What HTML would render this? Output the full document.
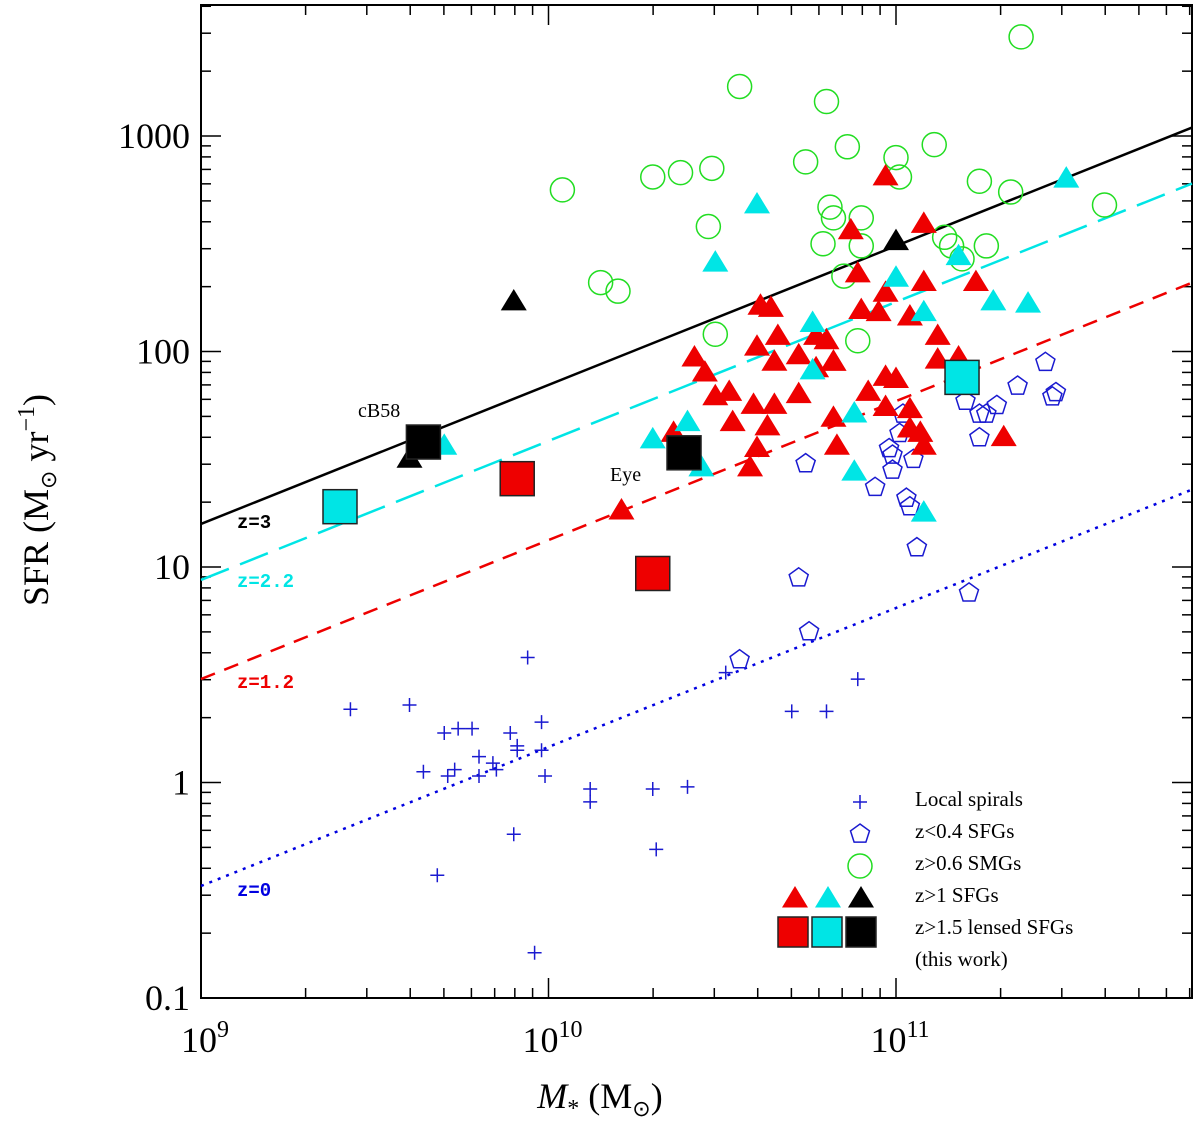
<!DOCTYPE html>
<html><head><meta charset="utf-8"><style>
html,body{margin:0;padding:0;background:#fff;}
svg{display:block;font-family:"Liberation Serif",serif;}
</style></head><body>
<svg id="chart" width="1200" height="1126" viewBox="0 0 1200 1126" xmlns="http://www.w3.org/2000/svg">
<g id="grid"></g><g id="lines"></g><g id="marks"></g><g id="legend"></g>
</svg>
<script>
// ---- data (log10 stellar mass, log10 SFR) ----
const xTickLabels = ["9","10","11"];
const yTickValues = [0.1,1,10,100,1000];
const yTickLabels = ["0.1","1","10","100","1000"];
const relNames = ["z=3","z=2.2","z=1.2","z=0"];
const relLogSfrAt9 = [1.20,0.94,0.48,-0.48];
const relSlope = [0.645,0.645,0.645,0.645];

const smgLogM = [11.36,10.55,10.80,11.11,11.00,11.01,10.86,10.74,10.47,10.38,10.30,10.04,11.24,11.33,11.60,10.81,10.82,10.90,10.79,10.90,10.46,11.14,11.16,11.19,11.26,10.85,10.15,10.20,10.48,10.89];
const smgLogS = [3.46,3.23,3.16,2.96,2.90,2.81,2.95,2.88,2.85,2.83,2.81,2.75,2.79,2.74,2.68,2.67,2.62,2.62,2.50,2.49,2.58,2.53,2.49,2.43,2.49,2.35,2.32,2.28,2.08,2.05];

const redTriLogM = [10.61,10.64,10.60,10.66,10.65,10.42,10.45,10.48,10.52,10.59,10.65,10.72,10.53,10.63,10.60,10.58,10.72,10.77,10.77,10.82,10.82,10.97,10.87,11.08,10.89,11.08,11.23,10.97,10.90,10.95,11.04,11.12,10.80,10.82,11.12,11.18,10.97,11.00,10.92,10.97,11.04,11.04,11.07,11.08,11.31,10.83,10.21,10.36];
const redTriLogS = [2.21,2.20,2.02,2.07,1.95,1.97,1.90,1.79,1.81,1.75,1.75,1.80,1.67,1.65,1.55,1.46,1.98,2.07,1.92,1.95,1.69,2.81,2.56,2.59,2.36,2.32,2.32,2.27,2.19,2.18,2.16,2.07,2.05,1.95,1.96,1.97,1.88,1.87,1.81,1.74,1.73,1.64,1.62,1.56,1.60,1.56,1.26,1.62];

const cyanTriLogM = [10.60,10.48,10.76,10.76,10.40,10.30,10.44,11.49,11.18,11.00,11.08,11.28,11.38,10.88,10.88,11.08,9.70];
const cyanTriLogS = [2.68,2.41,2.13,1.91,1.67,1.59,1.46,2.80,2.44,2.34,2.18,2.23,2.22,1.71,1.44,1.25,1.56];

const blackTriLogM = [9.90,9.60,11.00];
const blackTriLogS = [2.23,1.50,2.51];

const redSqLogM = [9.91,10.30];
const redSqLogS = [1.41,0.97];
const cyanSqLogM = [9.40,11.19];
const cyanSqLogS = [1.28,1.88];
const blackSqLogM = [9.64,10.39];
const blackSqLogS = [1.58,1.53];

const pentLogM = [11.43,11.35,11.46,11.45,11.20,11.29,11.24,11.26,11.02,11.01,10.98,10.99,11.05,10.99,11.24,10.94,11.03,11.04,11.06,11.21,10.74,10.72,10.75,10.55];
const pentLogS = [1.95,1.84,1.81,1.79,1.77,1.75,1.71,1.71,1.71,1.62,1.55,1.52,1.50,1.45,1.60,1.37,1.32,1.28,1.09,0.88,1.48,0.95,0.70,0.57];

const plusLogM = [9.43,9.60,9.70,9.74,9.78,9.64,9.71,9.73,9.80,9.80,9.84,9.85,9.89,9.91,9.91,9.98,9.98,9.99,9.90,9.68,9.96,9.94,10.12,10.12,10.30,10.40,10.31,10.51,10.70,10.80,10.89];
const plusLogS = [0.34,0.36,0.23,0.25,0.25,0.05,0.03,0.06,0.03,0.12,0.09,0.06,0.23,0.17,0.15,0.28,0.15,0.03,-0.24,-0.43,-0.79,0.58,-0.03,-0.09,-0.03,-0.02,-0.31,0.51,0.33,0.33,0.48];

// ---- axes ----
const X0=201,X1=1192,Y0=5,Y1=998;
const xmin=9, xper=347.5, ytop=3.608, yper=215.5;
const xs = lm => X0 + (lm - xmin)*xper;
const ys = ls => Y0 + (ytop - ls)*yper;
const xmax = xmin + (X1-X0)/xper;
const NS="http://www.w3.org/2000/svg";
function mk(tag, attrs, parent){const e=document.createElementNS(NS,tag);for(const k in attrs)e.setAttribute(k,attrs[k]);parent.appendChild(e);return e;}
const grid=document.getElementById('grid'), linesG=document.getElementById('lines'), marks=document.getElementById('marks'), legend=document.getElementById('legend');

const frame=mk('rect',{x:X0,y:Y0,width:X1-X0,height:Y1-Y0,fill:'none',stroke:'#000','stroke-width':2},grid);



for(let d=9; d<12; d++){
  for(let m=1;m<10;m++){
    const lm=d+Math.log10(m); if(lm>xmax) break;
    const x=xs(lm), L=(m===1)?20:10;
    const t1=mk('line',{x1:x,y1:Y1,x2:x,y2:Y1-L,stroke:'#000','stroke-width':1.5},grid);
    
    
    const t2=mk('line',{x1:x,y1:Y0,x2:x,y2:Y0+L,stroke:'#000','stroke-width':1.5},grid);
    
    
  }
}
xTickLabels.forEach(function(lab,i){
  const x=xs(parseFloat(lab));
  const t=mk('text',{x:x+4,y:1052,'font-size':36,'text-anchor':'middle'},grid);
  
  
  const a=mk('tspan',{},t); a.textContent='10';
  const b=mk('tspan',{dy:-15,'font-size':24},t); b.textContent=lab;
});
for(let d=-1; d<4; d++){
  for(let m=1;m<10;m++){
    const ls=d+Math.log10(m); if(ls>ytop) break;
    const y=ys(ls), L=(m===1)?20:10;
    const t1=mk('line',{x1:X0,y1:y,x2:X0+L,y2:y,stroke:'#000','stroke-width':1.5},grid);
    
    
    const t2=mk('line',{x1:X1,y1:y,x2:X1-L,y2:y,stroke:'#000','stroke-width':1.5},grid);
    
    
  }
}
yTickValues.forEach(function(v,i){
  const t=mk('text',{x:190,y:ys(Math.log10(v))+12,'font-size':36,'text-anchor':'end'},grid);
  
  
  t.textContent=yTickLabels[i];
});
const xt=mk('text',{x:600,y:1108,'font-size':36,'text-anchor':'middle'},grid);


xt.innerHTML='<tspan font-style="italic">M</tspan><tspan font-size="24" dy="8">*</tspan><tspan dy="-8"> (M</tspan><tspan font-size="22" dy="8">⊙</tspan><tspan dy="-8">)</tspan>';
const yt=mk('text',{x:0,y:0,'font-size':36,'text-anchor':'middle',transform:'translate(48,500) rotate(-90)'},grid);


yt.innerHTML='SFR (M<tspan font-size="22" dy="8">⊙</tspan><tspan dy="-8"> yr</tspan><tspan font-size="24" dy="-14">−1</tspan><tspan dy="14">)</tspan>';

const relColors=['#000','#00e5e5','#e00','#0000e0'];
const relDash=['none','30,12','15,10','3,6'];
const relLabelY=[528,587,688,896];
relNames.forEach(function(n,i){
  const l=mk('line',{x1:xs(9),y1:ys(relLogSfrAt9[i]),x2:xs(xmax),y2:ys(relLogSfrAt9[i]+relSlope[i]*(xmax-9)),stroke:relColors[i],'stroke-width':2.5,'stroke-dasharray':relDash[i]},linesG);
  
  
  const t=mk('text',{x:237,y:relLabelY[i],'font-size':19,'font-weight':'bold','font-family':'Liberation Mono, monospace',fill:relColors[i]},linesG);
  
  
  t.textContent=n;
});

function circle(x,y,c,p,name){const e=mk('circle',{cx:x,cy:y,r:12,fill:'none',stroke:c,'stroke-width':1.5},p);}
function tri(x,y,c,p,name){const s=13;const e=mk('polygon',{points:(x)+','+(y-s)+' '+(x-s)+','+(y+s*0.65)+' '+(x+s)+','+(y+s*0.65),fill:c},p);}
function sq(x,y,c,p,name,h){const e=mk('rect',{x:x-h,y:y-h,width:2*h,height:2*h,fill:c,stroke:'#222','stroke-width':1.5},p);}
function pent(x,y,c,p,name){let pts=[];for(let k=0;k<5;k++){const a=-Math.PI/2+k*2*Math.PI/5;pts.push((x+10*Math.cos(a)).toFixed(1)+','+(y+10*Math.sin(a)).toFixed(1));}const e=mk('polygon',{points:pts.join(' '),fill:'none',stroke:c,'stroke-width':1.5},p);}
function plus(x,y,c,p,name){const e=mk('path',{d:'M'+(x-7)+' '+y+'H'+(x+7)+'M'+x+' '+(y-7)+'V'+(y+7),stroke:c,'stroke-width':1.5},p);}

smgLogM.forEach((m,i)=>circle(xs(m),ys(smgLogS[i]),'#22dd22',marks,'smg-point'));
pentLogM.forEach((m,i)=>pent(xs(m),ys(pentLogS[i]),'#1a1ad0',marks,'low-z-sfg-point'));
plusLogM.forEach((m,i)=>plus(xs(m),ys(plusLogS[i]),'#1a1ad0',marks,'local-spiral-point'));
redTriLogM.forEach((m,i)=>tri(xs(m),ys(redTriLogS[i]),'#ee0000',marks,'sfg-z12-point'));
cyanTriLogM.forEach((m,i)=>tri(xs(m),ys(cyanTriLogS[i]),'#00e5e5',marks,'sfg-z22-point'));
blackTriLogM.forEach((m,i)=>tri(xs(m),ys(blackTriLogS[i]),'#000',marks,'sfg-z3-point'));
redSqLogM.forEach((m,i)=>sq(xs(m),ys(redSqLogS[i]),'#ee0000',marks,'lensed-z12-square',17));
cyanSqLogM.forEach((m,i)=>sq(xs(m),ys(cyanSqLogS[i]),'#00e5e5',marks,'lensed-z22-square',17));
blackSqLogM.forEach((m,i)=>sq(xs(m),ys(blackSqLogS[i]),'#000',marks,'lensed-z3-square',17));

const a1=mk('text',{x:358,y:417,'font-size':20},marks); a1.textContent='cB58';


const a2=mk('text',{x:610,y:481,'font-size':20},marks); a2.textContent='Eye';



plus(860,802,'#1a1ad0',legend,'legend-icon-local-spirals');
pent(860,834,'#1a1ad0',legend,'legend-icon-low-z-sfgs');
circle(860,866,'#22dd22',legend,'legend-icon-smgs');
tri(795,899,'#ee0000',legend,'legend-icon-red-tri');
tri(828,899,'#00e5e5',legend,'legend-icon-cyan-tri');
tri(861,899,'#000',legend,'legend-icon-black-tri');
sq(793,932,'#ee0000',legend,'legend-icon-red-sq',15);
sq(827,932,'#00e5e5',legend,'legend-icon-cyan-sq',15);
sq(861,932,'#000',legend,'legend-icon-black-sq',15);
const legTexts=['Local spirals','z<0.4 SFGs','z>0.6 SMGs','z>1 SFGs','z>1.5 lensed SFGs','(this work)'];
legTexts.forEach(function(s,i){
  const t=mk('text',{x:915,y:806+i*32,'font-size':21},legend);
  
  
  t.textContent=s;
});
</script>
</body></html>
